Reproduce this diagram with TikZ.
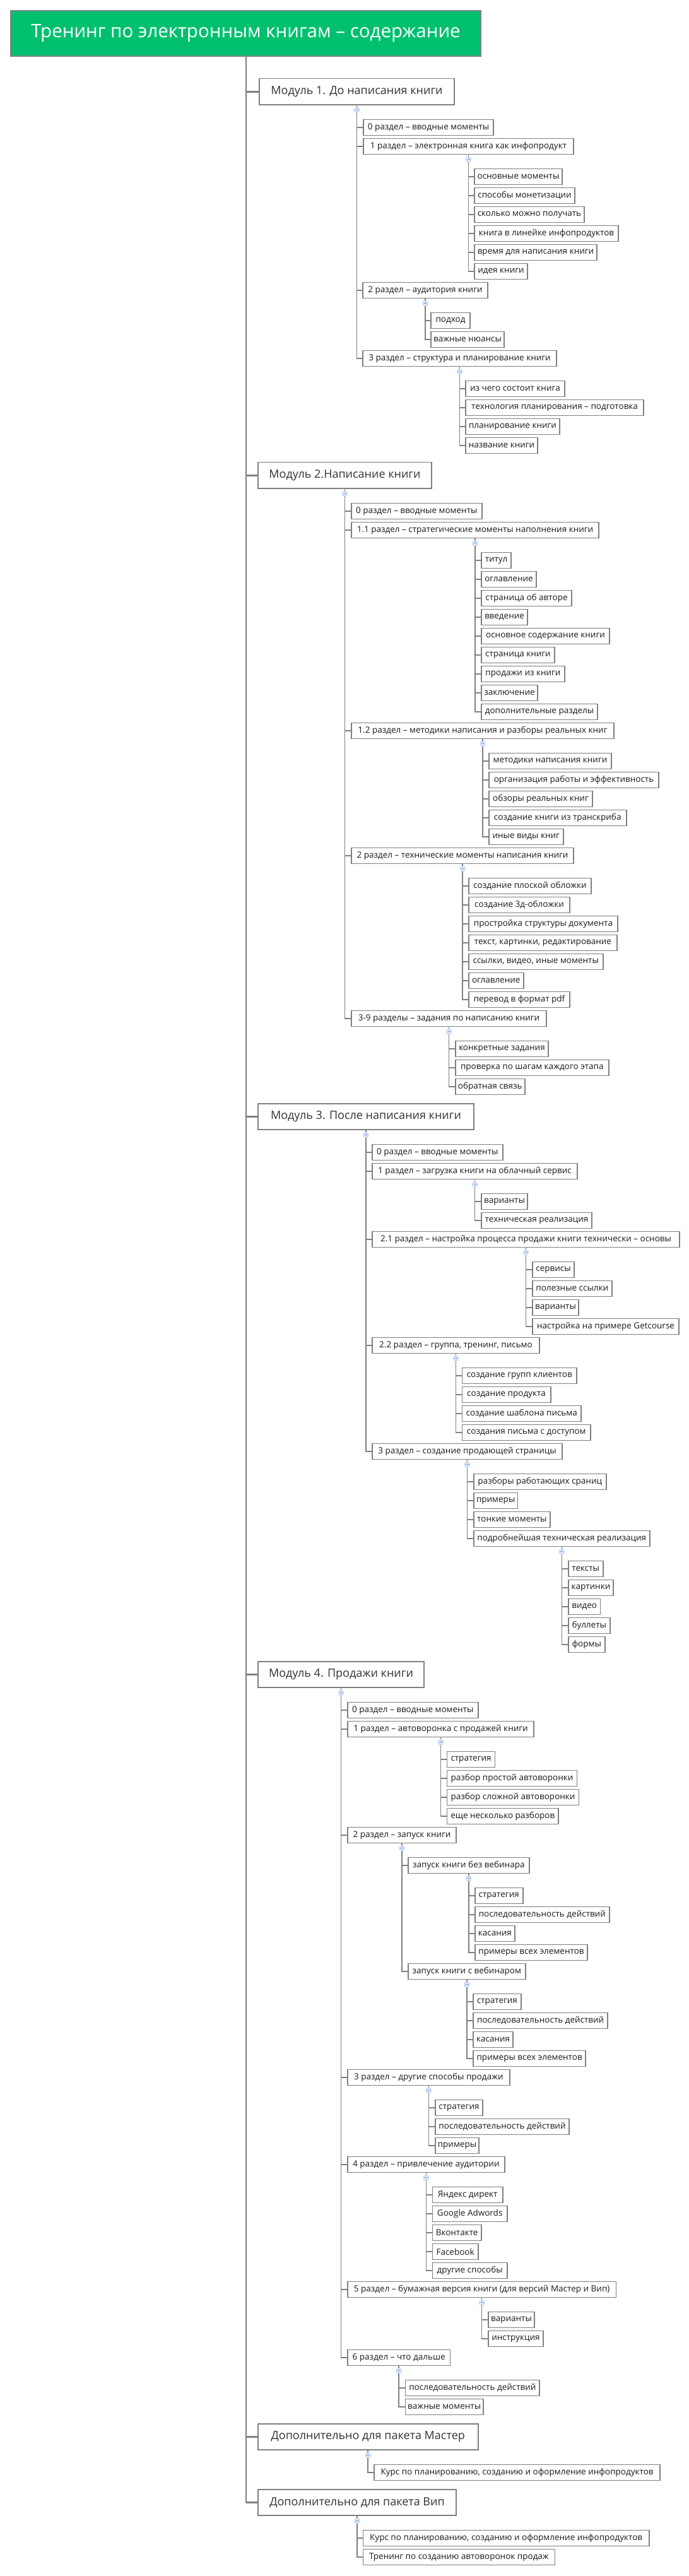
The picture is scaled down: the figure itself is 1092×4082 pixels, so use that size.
\documentclass[tikz,border=0pt]{standalone}
\usepackage{fontspec}
\setmainfont{Open Sans}
\definecolor{linegray}{HTML}{808080}
\definecolor{textdark}{HTML}{1A1A1A}
\definecolor{textmod}{HTML}{333333}
\definecolor{titlegreen}{HTML}{00C070}
\definecolor{togfill}{HTML}{DCE7FB}
\definecolor{togborder}{HTML}{A8C0EA}
\definecolor{togminus}{HTML}{6A8ED2}
\tikzset{
  leaf/.style={draw=linegray, line width=1.6pt, fill=white, minimum height=25pt,
    inner xsep=2.5pt, inner ysep=0pt, font=\fontsize{13.5}{16}\selectfont, text=textdark},
  modbox/.style={draw=linegray, line width=1.8pt, fill=white, minimum height=41.5pt,
    inner xsep=6pt, inner ysep=0pt, font=\fontsize{18}{21}\selectfont, text=textmod},
  titlebox/.style={draw=linegray, line width=2pt, fill=titlegreen, minimum height=72pt,
    inner xsep=6pt, inner ysep=0pt, font=\fontsize{29.5}{33}\selectfont, text=white},
  conn/.style={draw=linegray, line width=1.6pt},
  mainconn/.style={draw=linegray, line width=2pt},
  modconn/.style={draw=linegray, line width=2.6pt},
  tog/.style={circle, draw=togborder, fill=togfill, line width=0.6pt, minimum size=8.5pt,
    inner sep=0pt, path picture={\draw[togminus, line width=0.8pt]
      ([xshift=-2pt]path picture bounding box.center) -- ([xshift=2pt]path picture bounding box.center);}}
}
\newcommand\lf[5]{\node[leaf, anchor=west, minimum width={#4pt-1.6pt}] (#1) at (#2,#3) {#5};}
\newcommand\md[5]{\node[modbox, anchor=west, minimum width={#4pt-1.8pt}] (#1) at (#2,#3) {#5};}
\newcommand\kids[2]{\foreach \c in {#2}{\draw[conn] (#1.south) |- (\c.west);}
  \node[tog] (#1-t) at ([yshift=-7.5pt]#1.south) {};}
\begin{document}
\begin{tikzpicture}[x=1pt, y=-1pt]
\useasboundingbox (0,0) rectangle (1092,4082);
\node[titlebox, anchor=west, minimum width=745pt] (T) at (16,53) {Тренинг по электронным книгам – содержание};

% Module 1
\md{m1}{410}{145.2}{311}{Модуль 1. До написания книги}
\lf{a0}{575}{202}{208}{0 раздел – вводные моменты}
\lf{a1}{575}{232}{335}{1 раздел – электронная книга как инфопродукт}
\lf{a1a}{751}{280}{141}{основные моменты}
\lf{a1b}{751}{310}{161}{способы монетизации}
\lf{a1c}{751}{340}{176}{сколько можно получать}
\lf{a1d}{751}{370}{230}{книга в линейке инфопродуктов}
\lf{a1e}{751}{400}{196}{время для написания книги}
\lf{a1f}{751}{430}{86}{идея книги}
\lf{a2}{574}{460}{200}{2 раздел – аудитория книги}
\lf{a2a}{682}{508}{64}{подход}
\lf{a2b}{682}{538}{118}{важные нюансы}
\lf{a3}{574}{568}{309}{3 раздел – структура и планирование книги}
\lf{a3a}{737}{616}{159}{из чего состоит книга}
\lf{a3b}{737}{646}{284}{технология планирования – подготовка}
\lf{a3c}{737}{676}{151}{планирование книги}
\lf{a3d}{737}{706}{116}{название книги}

% Module 2
\md{m2}{408}{753.2}{277}{Модуль 2.Написание книги}
\lf{b0}{556}{810}{208.5}{0 раздел – вводные моменты}
\lf{b1}{556}{840}{394}{1.1 раздел – стратегические моменты наполнения книги}
\lf{b1a}{762}{888}{49}{титул}
\lf{b1b}{762}{918}{89}{оглавление}
\lf{b1c}{762}{948}{145}{страница об авторе}
\lf{b1d}{762}{978}{75}{введение}
\lf{b1e}{762}{1008}{205}{основное содержание книги}
\lf{b1f}{762}{1038}{118}{страница книги}
\lf{b1g}{762}{1068}{134}{продажи из книги}
\lf{b1h}{762}{1098}{91}{заключение}
\lf{b1i}{762}{1128}{186}{дополнительные разделы}
\lf{b2}{556}{1158}{418}{1.2 раздел – методики написания и разборы реальных книг}
\lf{b2a}{774}{1206}{196}{методики написания книги}
\lf{b2b}{774}{1236}{271}{организация работы и эффективность}
\lf{b2c}{774}{1266}{166}{обзоры реальных книг}
\lf{b2d}{774}{1296}{219.5}{создание книги из транскриба}
\lf{b2e}{774}{1326}{119.5}{иные виды книг}
\lf{b3}{556}{1356}{354}{2 раздел – технические моменты написания книги}
\lf{b3a}{742}{1404}{196}{создание плоской обложки}
\lf{b3b}{742}{1434}{162}{создание 3д-обложки}
\lf{b3c}{742}{1464}{238}{простройка структуры документа}
\lf{b3d}{742}{1494}{237}{текст, картинки, редактирование}
\lf{b3e}{742}{1524}{214.5}{ссылки, видео, иные моменты}
\lf{b3f}{742}{1554}{88.5}{оглавление}
\lf{b3g}{742}{1584}{162}{перевод в формат pdf}
\lf{b4}{556}{1614}{311}{3-9 разделы – задания по написанию книги}
\lf{b4a}{721}{1662}{149}{конкретные задания}
\lf{b4b}{721}{1692}{244.6}{проверка по шагам каждого этапа}
\lf{b4c}{721}{1722}{111.6}{обратная связь}

% Module 3
\md{m3}{408}{1769.4}{344}{Модуль 3. После написания книги}
\lf{c0}{589}{1826}{208.5}{0 раздел – вводные моменты}
\lf{c1}{589}{1856}{327}{1 раздел – загрузка книги на облачный сервис}
\lf{c1a}{762}{1904}{75}{варианты}
\lf{c1b}{762}{1934}{177}{техническая реализация}
\lf{c2}{589}{1964}{489}{2.1 раздел – настройка процесса продажи книги технически – основы}
\lf{c2a}{843}{2012}{68}{сервисы}
\lf{c2b}{843}{2042}{127.6}{полезные ссылки}
\lf{c2c}{843}{2072}{75}{варианты}
\lf{c2d}{843}{2102}{234}{настройка на примере Getcourse}
\lf{c3}{589}{2132}{267}{2.2 раздел – группа, тренинг, письмо}
\lf{c3a}{731.5}{2180}{183.5}{создание групп клиентов}
\lf{c3b}{731.5}{2210}{142}{создание продукта}
\lf{c3c}{731.5}{2240}{190.5}{создание шаблона письма}
\lf{c3d}{731.5}{2270}{205.5}{создания письма с доступом}
\lf{c4}{589}{2300}{303}{3 раздел – создание продающей страницы}
\lf{c4a}{750}{2348}{211.5}{разборы работающих сраниц}
\lf{c4b}{750}{2378}{71.4}{примеры}
\lf{c4c}{750}{2408}{122.7}{тонкие моменты}
\lf{c4d}{750}{2438}{280.6}{подробнейшая техническая реализация}
\lf{c4d1}{900}{2486}{56.5}{тексты}
\lf{c4d2}{900}{2516}{73}{картинки}
\lf{c4d3}{900}{2546}{52.4}{видео}
\lf{c4d4}{900}{2576}{67.6}{буллеты}
\lf{c4d5}{900}{2606}{59.5}{формы}

% Module 4
\md{m4}{408}{2653.4}{265}{Модуль 4. Продажи книги}
\lf{d0}{550}{2710}{208.5}{0 раздел – вводные моменты}
\lf{d1}{550}{2740}{297}{1 раздел – автоворонка с продажей книги}
\lf{d1a}{707.7}{2788}{77.7}{стратегия}
\lf{d1b}{707.7}{2818}{207.6}{разбор простой автоворонки}
\lf{d1c}{707.7}{2848}{210.7}{разбор сложной автоворонки}
\lf{d1d}{707.7}{2878}{178.2}{еще несколько разборов}
\lf{d2}{550}{2908}{174}{2 раздел – запуск книги}
\lf{d2a}{646}{2956}{193.7}{запуск книги без вебинара}
\lf{d2a1}{752}{3004}{77.5}{стратегия}
\lf{d2a2}{752}{3034}{214.6}{последовательность действий}
\lf{d2a3}{752}{3064}{64.8}{касания}
\lf{d2a4}{752}{3094}{180}{примеры всех элементов}
\lf{d2b}{646}{3124}{187.6}{запуск книги с вебинаром}
\lf{d2b1}{749.3}{3172}{77.2}{стратегия}
\lf{d2b2}{749.3}{3202}{214.7}{последовательность действий}
\lf{d2b3}{749.3}{3232}{64.5}{касания}
\lf{d2b4}{749.3}{3262}{179.7}{примеры всех элементов}
\lf{d3}{550}{3292}{258.7}{3 раздел – другие способы продажи}
\lf{d3a}{689}{3340}{77}{стратегия}
\lf{d3b}{689}{3370}{214}{последовательность действий}
\lf{d3c}{689}{3400}{71}{примеры}
\lf{d4}{550}{3430}{250.6}{4 раздел – привлечение аудитории}
\lf{d4a}{684.8}{3478}{112.7}{Яндекс директ}
\lf{d4b}{684.8}{3508}{119.8}{Google Adwords}
\lf{d4c}{684.8}{3538}{78.7}{Вконтакте}
\lf{d4d}{684.8}{3568}{73.7}{Facebook}
\lf{d4e}{684.8}{3598}{119.8}{другие способы}
\lf{d5}{550}{3628}{427.3}{5 раздел – бумажная версия книги (для версий Мастер и Вип)}
\lf{d5a}{773}{3676}{75}{варианты}
\lf{d5b}{773}{3706}{89}{инструкция}
\lf{d6}{550}{3736}{164.3}{6 раздел – что дальше}
\lf{d6a}{641.7}{3784}{214.3}{последовательность действий}
\lf{d6b}{641.7}{3814}{124.9}{важные моменты}

% Module 5, 6
\md{m5}{408}{3861.4}{350.5}{Дополнительно для пакета Мастер}
\lf{e1}{592.4}{3918}{454.4}{Курс по планированию, созданию и оформление инфопродуктов}
\md{m6}{408}{3965.4}{316}{Дополнительно для пакета Вип}
\lf{f1}{574.7}{4022}{454.9}{Курс по планированию, созданию и оформление инфопродуктов}
\lf{f2}{574.7}{4052}{305.6}{Тренинг по созданию автоворонок продаж}

% main connectors
\foreach \m in {m1,m2,m3,m4,m5,m6}{\draw[mainconn] (T.south) |- (\m.west);}
\foreach \m in {m1,m2,m3,m4,m5,m6}{\draw[modconn] (T.south |- \m.west) -- (\m.west);}

% tree connectors
\kids{a1}{a1a,a1b,a1c,a1d,a1e,a1f}
\kids{a2}{a2a,a2b}
\kids{a3}{a3a,a3b,a3c,a3d}
\kids{m1}{a0,a1,a2,a3}
\kids{b1}{b1a,b1b,b1c,b1d,b1e,b1f,b1g,b1h,b1i}
\kids{b2}{b2a,b2b,b2c,b2d,b2e}
\kids{b3}{b3a,b3b,b3c,b3d,b3e,b3f,b3g}
\kids{b4}{b4a,b4b,b4c}
\kids{m2}{b0,b1,b2,b3,b4}
\kids{c1}{c1a,c1b}
\kids{c2}{c2a,c2b,c2c,c2d}
\kids{c3}{c3a,c3b,c3c,c3d}
\kids{c4d}{c4d1,c4d2,c4d3,c4d4,c4d5}
\kids{c4}{c4a,c4b,c4c,c4d}
\kids{m3}{c0,c1,c2,c3,c4}
\kids{d1}{d1a,d1b,d1c,d1d}
\kids{d2a}{d2a1,d2a2,d2a3,d2a4}
\kids{d2b}{d2b1,d2b2,d2b3,d2b4}
\kids{d2}{d2a,d2b}
\kids{d3}{d3a,d3b,d3c}
\kids{d4}{d4a,d4b,d4c,d4d,d4e}
\kids{d5}{d5a,d5b}
\kids{d6}{d6a,d6b}
\kids{m4}{d0,d1,d2,d3,d4,d5,d6}
\kids{m5}{e1}
\kids{m6}{f1,f2}
\end{tikzpicture}
\end{document}
